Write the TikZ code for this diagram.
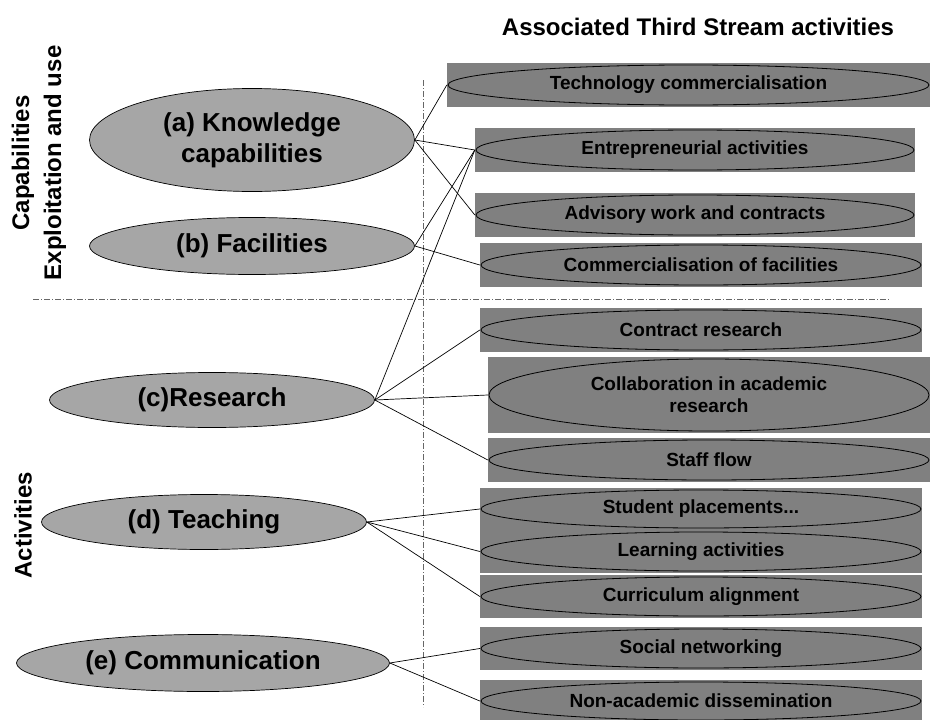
\documentclass[tikz,border=0pt]{standalone}
\usepackage{fontspec}
\setmainfont{Liberation Sans}
\usetikzlibrary{shapes.geometric,calc}
\tikzset{
  lell/.style={ellipse, draw, line width=0.7pt, fill=black!35, inner sep=0pt,
    font=\bfseries\fontsize{26}{31}\selectfont, align=center},
  rbox/.style={rectangle, fill=black!50, inner sep=0pt,
    font=\bfseries\fontsize{19}{22}\selectfont, align=center,
    path picture={\draw[line width=0.8pt] let \p1=(path picture bounding box.north east),
      \p2=(path picture bounding box.center) in
      (\p2) ellipse [x radius={\x1-\x2-1pt}, y radius={\y1-\y2-2pt}];}},
  conn/.style={draw, line width=0.7pt},
  divider/.style={draw=black!60, line width=0.7pt, dash pattern=on 6pt off 2pt on 1pt off 2pt},
  side/.style={rotate=90, font=\bfseries\fontsize{24}{28}\selectfont}
}
\begin{document}
\begin{tikzpicture}[x=1pt,y=-1pt]
\useasboundingbox (0,0) rectangle (930,720);
% dividers
\draw[divider] (423,80) -- (423,707);
\draw[divider] (33,299) -- (890,299);
% title and side labels
\node[font=\bfseries\fontsize{24}{28}\selectfont] (title) at (698,27) {Associated Third Stream activities};
\node[side] (cap) at (23,163) {Capabilities};
\node[side] (exp) at (55,163) {Exploitation and use};
\node[side] (act) at (23,525) {Activities};
% left ellipses
\node[lell, minimum width=325pt, minimum height=103pt] (a) at (252,140) {(a) Knowledge\\capabilities};
\node[lell, minimum width=325pt, minimum height=57pt] (b) at (252,246) {(b) Facilities};
\node[lell, minimum width=325pt, minimum height=55pt] (c) at (212,400) {(c)Research};
\node[lell, minimum width=325pt, minimum height=55pt] (d) at (204,522) {(d) Teaching};
\node[lell, minimum width=373pt, minimum height=57pt] (e) at (203,663) {(e) Communication};
% right boxes
\node[rbox, minimum width=483pt, minimum height=44pt] (tech) at (688.5,85) {Technology commercialisation};
\node[rbox, minimum width=440pt, minimum height=44pt] (entr) at (695,150) {Entrepreneurial activities};
\node[rbox, minimum width=440pt, minimum height=44pt] (adv) at (695,215) {Advisory work and contracts};
\node[rbox, minimum width=442pt, minimum height=44pt] (cfac) at (701,265) {Commercialisation of facilities};
\node[rbox, minimum width=442pt, minimum height=44pt] (cres) at (701,330) {Contract research};
\node[rbox, minimum width=442pt, minimum height=76pt] (coll) at (709,395) {Collaboration in academic\\research};
\node[rbox, minimum width=442pt, minimum height=44pt] (staff) at (709,460) {Staff flow};
\node[rbox, minimum width=442pt, minimum height=42pt] (stud) at (701,509) {Student placements...};
\node[rbox, minimum width=442pt, minimum height=43pt] (learn) at (701,551.5) {Learning activities};
\node[rbox, minimum width=442pt, minimum height=43pt] (curr) at (701,596.5) {Curriculum alignment};
\node[rbox, minimum width=442pt, minimum height=43pt] (soc) at (701,648.5) {Social networking};
\node[rbox, minimum width=442pt, minimum height=42pt] (nonac) at (701,701) {Non-academic dissemination};
% connectors
\draw[conn] (a.east) -- (tech.west);
\draw[conn] (a.east) -- (entr.west);
\draw[conn] (a.east) -- (adv.west);
\draw[conn] (b.east) -- (entr.west);
\draw[conn] (b.east) -- (cfac.west);
\draw[conn] (c.east) -- (entr.west);
\draw[conn] (c.east) -- (cres.west);
\draw[conn] (c.east) -- (coll.west);
\draw[conn] (c.east) -- (staff.west);
\draw[conn] (d.east) -- (stud.west);
\draw[conn] (d.east) -- (learn.west);
\draw[conn] (d.east) -- (curr.west);
\draw[conn] (e.east) -- (soc.west);
\draw[conn] (e.east) -- (nonac.west);
\end{tikzpicture}
\end{document}
